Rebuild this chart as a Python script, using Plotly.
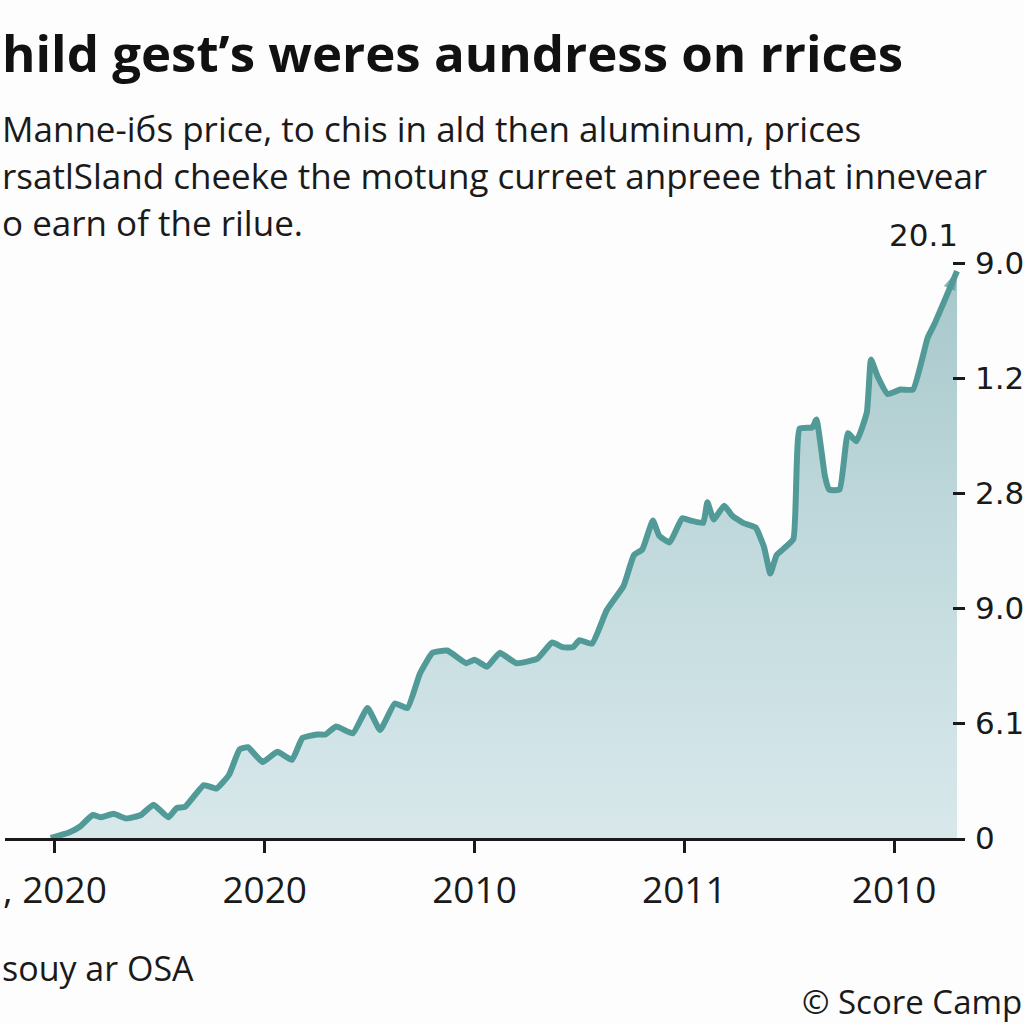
import plotly.graph_objects as go

# ---- data (x in tick-interval units, y in axis units) ----
x_vals = [-0.02, 0.07, 0.12, 0.18, 0.22, 0.28, 0.34, 0.41, 0.47, 0.54, 0.58, 0.62,
          0.71, 0.77, 0.83, 0.88, 0.92, 0.99, 1.06, 1.13, 1.18, 1.25, 1.29, 1.34,
          1.42, 1.49, 1.55, 1.62, 1.68, 1.74, 1.80, 1.87, 1.96, 2.00, 2.06, 2.12,
          2.20, 2.30, 2.37, 2.42, 2.47, 2.50, 2.56, 2.63, 2.71, 2.76, 2.80, 2.85,
          2.88, 2.93, 2.99, 3.03, 3.09, 3.11, 3.14, 3.19, 3.23, 3.28, 3.34, 3.38,
          3.41, 3.44, 3.47, 3.52, 3.55, 3.61, 3.63, 3.67, 3.69, 3.74, 3.78, 3.82,
          3.87, 3.89, 3.92, 3.97, 4.03, 4.09, 4.16, 4.19, 4.30]
y_vals = [0.00, 0.05, 0.10, 0.20, 0.18, 0.21, 0.17, 0.20, 0.29, 0.18, 0.26, 0.27,
          0.46, 0.43, 0.55, 0.77, 0.79, 0.66, 0.75, 0.68, 0.87, 0.90, 0.90, 0.97,
          0.91, 1.13, 0.94, 1.17, 1.13, 1.43, 1.61, 1.63, 1.52, 1.55, 1.49, 1.61,
          1.52, 1.56, 1.70, 1.66, 1.66, 1.72, 1.69, 1.98, 2.19, 2.46, 2.51, 2.76,
          2.63, 2.57, 2.78, 2.76, 2.74, 2.92, 2.77, 2.89, 2.80, 2.74, 2.70, 2.53,
          2.30, 2.46, 2.51, 2.60, 3.56, 3.57, 3.64, 3.15, 3.03, 3.03, 3.52, 3.45,
          3.70, 4.16, 4.02, 3.86, 3.90, 3.90, 4.35, 4.46, 4.93]

x_tick_vals = [0, 1, 2, 3, 4]
x_tick_text = [", 2020", "2020", "2010", "2011", "2010"]
y_tick_vals = [0, 1, 2, 3, 4, 5]
y_tick_text = ["0", "6.1", "9.0", "2.8", "1.2", "9.0"]

end_label = "20.1"
title_text = "hild gest\u2019s weres aundress on rrices"
subtitle_lines = [
    "Manne-i\u0431s price, to chis in ald then aluminum, prices",
    "rsatlSland cheeke the motung curreet anpreee that innevear",
    "o earn of the rilue.",
]
source_text = "souy ar OSA"
credit_text = "\u00a9 Score Camp"

LINE = "#519a97"
FONT = "Open Sans, Lato, sans-serif"

fig = go.Figure()
n = len(x_vals)
fig.add_trace(go.Scatter(
    x=x_vals, y=y_vals, mode="lines+markers",
    line=dict(color=LINE, width=6, shape="spline", smoothing=0.4),
    marker=dict(symbol="arrow", angleref="previous", color=LINE,
                size=[0] * (n - 1) + [20], line=dict(width=0)),
    fill="tozeroy",
    fillgradient=dict(type="vertical", start=0, stop=5,
                      colorscale=[[0, "#d8e8eb"], [0.5, "#c2dadd"], [1, "#a6c7ca"]]),
    hoverinfo="skip", showlegend=False,
))

fig.update_layout(
    width=1024, height=1024,
    margin=dict(l=0, r=0, t=0, b=0, autoexpand=False),
    paper_bgcolor="#fdfdfd", plot_bgcolor="rgba(0,0,0,0)",
    font=dict(family=FONT, color="#1a1a1a"),
    xaxis=dict(domain=[5 / 1024, 965 / 1024], range=[-0.238, 4.338], automargin=False,
               tickvals=x_tick_vals, ticktext=x_tick_text,
               showgrid=False, zeroline=False,
               showline=True, linecolor="#1a1a1a", linewidth=3,
               ticks="outside", ticklen=12, tickwidth=3, tickcolor="#1a1a1a",
               tickfont=dict(size=37, color="#1a1a1a"), ticklabelstandoff=6),
    yaxis=dict(domain=[186 / 1024, 794 / 1024], range=[0, 5.287], automargin=False,
               side="right", tickvals=y_tick_vals, ticktext=y_tick_text,
               showgrid=False, zeroline=False, showline=False,
               ticks="inside", ticklen=12, tickwidth=3, tickcolor="#1a1a1a",
               tickfont=dict(size=31, color="#1a1a1a", family="DejaVu Sans"),
               ticklabelstandoff=9),
)

fig.add_annotation(x=4.14, y=5.24, xref="x", yref="y", text=end_label, showarrow=False,
                   font=dict(size=31, color="#1a1a1a", family="DejaVu Sans"))

fig.add_annotation(x=0, y=1 - 52 / 1024, xref="paper", yref="paper", xanchor="left",
                   yanchor="middle", text="<b>" + title_text + "</b>", showarrow=False,
                   font=dict(size=51, color="#111111"))
for i, line in enumerate(subtitle_lines):
    fig.add_annotation(x=0, y=1 - (128 + 47 * i) / 1024, xref="paper", yref="paper",
                       xanchor="left", yanchor="middle", text=line, showarrow=False,
                       font=dict(size=35, color="#1a1a1a"))

fig.add_annotation(x=0, y=1 - 968 / 1024, xref="paper", yref="paper", xanchor="left",
                   yanchor="middle", text=source_text, showarrow=False,
                   font=dict(size=34, color="#1a1a1a"))
fig.add_annotation(x=1.0, y=1 - 1001 / 1024, xref="paper", yref="paper", xanchor="right",
                   yanchor="middle", text=credit_text, showarrow=False,
                   font=dict(size=33, color="#1a1a1a"))

fig.write_html("out.html")
